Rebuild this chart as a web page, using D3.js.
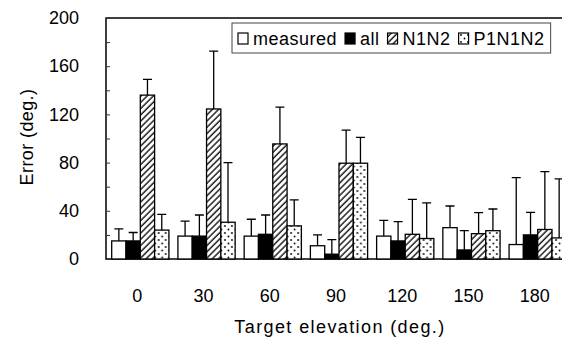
<!DOCTYPE html>
<html>
<head>
<meta charset="utf-8">
<script src="https://cdn.jsdelivr.net/npm/d3@7"></script>
<style>
  body { margin: 0; background: #fff; }
  text { font-family: "Liberation Sans", Arial, sans-serif; fill: #000; }
</style>
</head>
<body>
<div id="chart"></div>
<script>
// values
let categories = ["0", "30", "60", "90", "120", "150", "180"];
let seriesNames = ["measured", "all", "N1N2", "P1N1N2"];
let measured    = [15, 19, 19, 11, 19, 26, 12];
let measuredErr = [10, 12.5, 14, 9, 13, 18, 55.5];
let allVals     = [15, 19, 20.5, 4, 15, 7.5, 20];
let allErr      = [7, 17.5, 16, 12, 16, 16, 18.7];
let n1n2        = [136, 124.5, 95.5, 79.5, 20.5, 21, 24.5];
let n1n2Err     = [13, 48, 30.5, 27.5, 29, 17.5, 48];
let p1n1n2      = [24, 30.5, 27.5, 79.5, 17, 23.5, 17.5];
let p1n1n2Err   = [13, 49.5, 21.5, 21.5, 29.5, 18, 49];
let yTicks = [0, 20, 40, 60, 80, 100, 120, 140, 160, 180, 200];

const width = 562, height = 337;
const margin = {left: 106, top: 18};
const plotW = 466, plotH = 241;

let svg = d3.select("#chart").append("svg")
    .attr("width", width)
    .attr("height", height);

let defs = svg.append("defs");

// diagonal hatch
let hatch = defs.append("pattern")
    .attr("id", "hatch")
    .attr("patternUnits", "userSpaceOnUse")
    .attr("width", 4.4).attr("height", 4.4)
    .attr("patternTransform", "rotate(45)");
hatch.append("rect").attr("width", 4.4).attr("height", 4.4).attr("fill", "#fff");
hatch.append("line").attr("x1", 1).attr("y1", 0).attr("x2", 1).attr("y2", 4.4)
    .attr("stroke", "#000").attr("stroke-width", 1.3);

// dots
let dots = defs.append("pattern")
    .attr("id", "dots")
    .attr("patternUnits", "userSpaceOnUse")
    .attr("width", 7).attr("height", 7);
dots.append("rect").attr("width", 7).attr("height", 7).attr("fill", "#fff");
dots.append("circle").attr("cx", 1.5).attr("cy", 1.5).attr("r", 0.9).attr("fill", "#000");
dots.append("circle").attr("cx", 5).attr("cy", 5).attr("r", 0.9).attr("fill", "#000");

let fills = {measured: "#fff", all: "#000", N1N2: "url(#hatch)", P1N1N2: "url(#dots)"};

let rows = categories.map((c, i) => ({
    cat: c,
    values: [
        {key: "measured", v: measured[i], e: measuredErr[i]},
        {key: "all", v: allVals[i], e: allErr[i]},
        {key: "N1N2", v: n1n2[i], e: n1n2Err[i]},
        {key: "P1N1N2", v: p1n1n2[i], e: p1n1n2Err[i]}
    ]
}));

let g = svg.append("g").attr("transform", `translate(${margin.left}, ${margin.top})`);

let x0 = d3.scaleBand()
    .domain(categories)
    .range([0, plotW])
    .paddingInner(0.136)
    .paddingOuter(0.086);

let x1 = d3.scaleBand()
    .domain(seriesNames)
    .range([0, x0.bandwidth()]);

let y = d3.scaleLinear()
    .domain([0, 200])
    .range([plotH, 0]);

// frame
g.append("rect")
    .attr("x", 0).attr("y", 0)
    .attr("width", plotW).attr("height", plotH)
    .attr("fill", "none")
    .attr("stroke", "#000")
    .attr("stroke-width", 1.5);

// y axis
let yAxis = g.append("g")
    .call(d3.axisLeft(y)
        .tickValues(yTicks)
        .tickSize(-4)
        .tickPadding(27)
        .tickFormat(d => d % 40 === 0 ? d : ""));
yAxis.select(".domain").remove();
yAxis.selectAll("text").style("font-size", "18px");
yAxis.selectAll("line").attr("stroke", "#333");

// x axis
let xAxis = g.append("g")
    .attr("transform", `translate(0, ${plotH})`)
    .call(d3.axisBottom(x0).tickSize(0).tickPadding(30));
xAxis.select(".domain").remove();
xAxis.selectAll("text").style("font-size", "18px").attr("dx", -3);

// bars
let groups = g.selectAll(".grp").data(rows)
    .enter()
    .append("g")
    .attr("class", "grp")
    .attr("transform", d => `translate(${x0(d.cat)}, 0)`);

let bw = x1.bandwidth();

// error bars first so the bars sit on top of the stems
groups.selectAll(".err").data(d => d.values)
    .enter()
    .append("path")
    .attr("class", "err")
    .attr("d", d => {
        let cx = x1(d.key) + bw / 2;
        let top = y(d.v + d.e);
        return `M${cx},${y(d.v)}V${top}M${cx - 4.5},${top}H${cx + 4.5}`;
    })
    .attr("stroke", "#000")
    .attr("stroke-width", 1.3)
    .attr("fill", "none");

groups.selectAll(".bar").data(d => d.values)
    .enter()
    .append("rect")
    .attr("class", "bar")
    .attr("x", d => x1(d.key))
    .attr("y", d => y(d.v))
    .attr("width", bw)
    .attr("height", d => plotH - y(d.v))
    .attr("fill", d => fills[d.key])
    .attr("stroke", "#000")
    .attr("stroke-width", 1.3);

// axis titles
svg.append("text")
    .attr("transform", `translate(33, 137) rotate(-90)`)
    .style("text-anchor", "middle")
    .style("font-size", "18px")
    .style("letter-spacing", "0.4px")
    .text("Error (deg.)");

svg.append("text")
    .attr("x", 340)
    .attr("y", 333)
    .style("text-anchor", "middle")
    .style("font-size", "18px")
    .style("letter-spacing", "1.4px")
    .text("Target elevation (deg.)");

// legend
let legend = svg.append("g").attr("transform", "translate(232, 23)");
let legendBox = legend.append("rect")
    .attr("x", 0).attr("y", 0)
    .attr("height", 30)
    .attr("fill", "#fff")
    .attr("stroke", "#444")
    .attr("stroke-width", 1);

let lx = 6;
seriesNames.forEach(function(name) {
    legend.append("rect")
        .attr("x", lx).attr("y", 10)
        .attr("width", 10).attr("height", 11)
        .attr("fill", fills[name])
        .attr("stroke", "#000")
        .attr("stroke-width", 1.2);
    let t = legend.append("text")
        .attr("x", lx + 15)
        .attr("y", 22)
        .style("font-size", "18px")
        .style("letter-spacing", "0.5px")
        .text(name);
    lx += 15 + t.node().getComputedTextLength() + 8;
});
legendBox.attr("width", lx - 2);
</script>
</body>
</html>
